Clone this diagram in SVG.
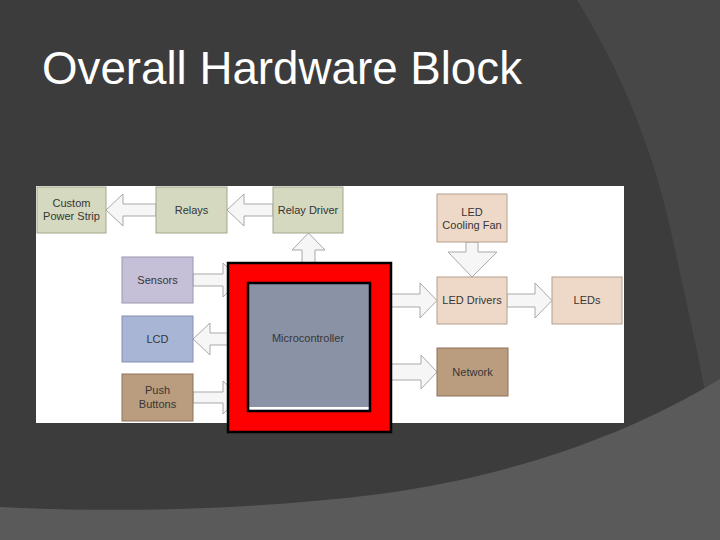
<svg xmlns="http://www.w3.org/2000/svg" width="720" height="540" viewBox="0 0 720 540">
<style>
.t{font-family:"Liberation Sans",Arial,sans-serif;font-size:11px;fill:#363636;text-anchor:middle}
.arw{fill:#f6f6f6;stroke:#a9a9a9;stroke-width:1;stroke-linejoin:miter}
.grn{fill:#d4d9bf;stroke:#a2a78e;stroke-width:1}
.pch{fill:#eed9c8;stroke:#b3a090;stroke-width:1}
.brn{fill:#ba9c7e;stroke:#8d735a;stroke-width:1}
</style>
<rect x="0" y="0" width="720" height="540" fill="#3c3c3c"/>
<path d="M577,0 C620,70 655,150 675,250 C690,320 705,380 714,450 L720,450 L720,0 Z" fill="#474747"/>
<path d="M0,507 C120,513 250,510 380,494 C500,478 620,440 720,379 L720,540 L0,540 Z" fill="#5a5a5a"/>
<text x="42" y="84" font-family="'Liberation Sans',Arial,sans-serif" font-size="46" fill="#ffffff" textLength="480" lengthAdjust="spacingAndGlyphs">Overall Hardware Block</text>
<rect x="36" y="186" width="588" height="237" fill="#ffffff"/>
<g id="connectors">
<polygon class="arw" points="106,210 123,194 123,204 156,204 156,216 123,216 123,226"/>
<polygon class="arw" points="227,210 244,194 244,204 273,204 273,216 244,216 244,226"/>
<polygon class="arw" points="308.5,233 325,250 315,250 315,266 302,266 302,250 292,250"/>
<polygon class="arw" points="193,274 223,274 223,263 240,280 223,297 223,286 193,286"/>
<polygon class="arw" points="193,339 210,323 210,333 232,333 232,345 210,345 210,355"/>
<polygon class="arw" points="193,392 223,392 223,381 240,397.5 223,414 223,403 193,403"/>
<polygon class="arw" points="388,294 420,294 420,283 437,300.5 420,318 420,307 388,307"/>
<polygon class="arw" points="507,294 535,294 535,283 552,300.5 535,318 535,307 507,307"/>
<polygon class="arw" points="466,242 478,242 478,252 497,252 472,277 448,252 466,252"/>
<polygon class="arw" points="388,364 421,364 421,355 437,372 421,389 421,380 388,380"/>
</g>
<g id="custom-power-strip"><rect class="grn" x="37" y="187" width="69" height="46"/><text class="t" x="71.5" y="207">Custom</text><text class="t" x="71.5" y="220">Power Strip</text></g>
<g id="relays"><rect class="grn" x="156" y="187" width="71" height="46"/><text class="t" x="191.5" y="214">Relays</text></g>
<g id="relay-driver"><rect class="grn" x="273" y="187" width="70" height="46"/><text class="t" x="308" y="214">Relay Driver</text></g>
<g id="sensors"><rect x="122" y="257" width="71" height="46" fill="#c6bfd8" stroke="#9c95af"/><text class="t" x="157.5" y="284">Sensors</text></g>
<g id="lcd"><rect x="122" y="316" width="71" height="46" fill="#a9b5d5" stroke="#8390b0"/><text class="t" x="157.5" y="343">LCD</text></g>
<g id="push-buttons"><rect class="brn" x="122" y="374" width="71" height="47"/><text class="t" x="157.5" y="394">Push</text><text class="t" x="157.5" y="408">Buttons</text></g>
<g id="microcontroller">
<rect x="228" y="263" width="163" height="169" fill="#ff0000" stroke="#000000" stroke-width="2.5"/>
<rect x="248" y="283" width="122" height="128" fill="#8a92a6" stroke="#000000" stroke-width="2.5"/>
<rect x="249.5" y="407" width="119" height="2.5" fill="#ffffff"/>
<text class="t" x="308" y="342" fill="#2e3038">Microcontroller</text>
</g>
<g id="led-cooling-fan"><rect class="pch" x="437" y="194" width="70" height="48"/><text class="t" x="472" y="216">LED</text><text class="t" x="472" y="229">Cooling Fan</text></g>
<g id="led-drivers"><rect class="pch" x="437" y="277" width="70" height="47"/><text class="t" x="472" y="304">LED Drivers</text></g>
<g id="leds"><rect class="pch" x="552" y="277" width="70" height="47"/><text class="t" x="587" y="304">LEDs</text></g>
<g id="network"><rect class="brn" x="437" y="348" width="71" height="48"/><text class="t" x="472.5" y="376">Network</text></g>
</svg>
